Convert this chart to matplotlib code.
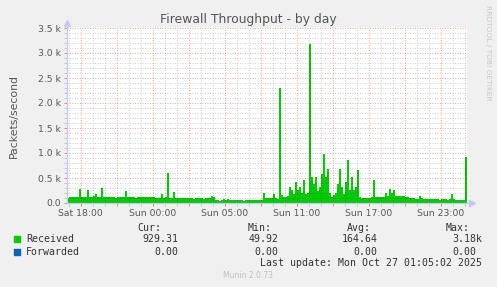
"""
Firewall throughput, Munin "by day" view, redrawn with matplotlib.
"""

import matplotlib
matplotlib.use("Agg")
import matplotlib.pyplot as plt
import numpy as np
from matplotlib.patches import Rectangle
from matplotlib.ticker import FixedLocator, MultipleLocator

W, H = 497, 287
DPI = 100

# Received packets/second, one sample per 10 minutes, oldest first
received = [
    110, 115, 120, 112, 118, 125, 280, 130, 120, 115,
    260, 130, 120, 140, 175, 130, 125, 295, 120, 115,
    118, 112, 120, 115, 110, 118, 122, 115, 120, 245,
    120, 115, 112, 118, 110, 115, 120, 128, 130, 118,
    115, 120, 118, 112, 110, 105, 110, 180, 108, 112,
    600, 110, 100, 220, 105, 100, 95, 100, 98, 95,
    95, 92, 98, 90, 95, 100, 92, 95, 90, 94,
    95, 110, 150, 120, 60, 55, 50, 55, 75, 70,
    75, 55, 60, 70, 55, 52, 58, 55, 50, 60,
    68, 55, 52, 60, 55, 58, 52, 60, 205, 100,
    105, 95, 110, 180, 95, 90, 2300, 160, 130, 120,
    150, 330, 260, 180, 430, 260, 330, 200, 460, 190,
    200, 3180, 530, 390, 530, 250, 330, 590, 990, 530,
    690, 200, 130, 160, 200, 390, 690, 330, 190, 430,
    860, 260, 530, 260, 330, 660, 130, 100, 105, 110,
    105, 110, 120, 460, 120, 130, 125, 130, 120, 207,
    150, 273, 193, 260, 150, 140, 145, 135, 140, 130,
    120, 110, 100, 95, 90, 88, 140, 95, 90, 85,
    80, 75, 78, 72, 80, 75, 70, 78, 72, 75,
    70, 75, 173, 80, 62, 60, 58, 62, 55, 929,
]
forwarded = [0.0] * len(received)

# hours relative to Sat 18:00 local time
START_H = -7 / 6
STEP_H = 1 / 6

tick_hours = [0, 6, 12, 18, 24, 30]
tick_labels = ["Sat 18:00", "Sun 00:00", "Sun 05:00",
               "Sun 11:00", "Sun 17:00", "Sun 23:00"]
y_ticks = [0, 500, 1000, 1500, 2000, 2500, 3000, 3500]
y_labels = ["0.0", "0.5 k", "1.0 k", "1.5 k", "2.0 k", "2.5 k", "3.0 k", "3.5 k"]

legend_names = ["Received", "Forwarded"]
legend_colors = ["#00CC00", "#0066B3"]
cur_vals = ["929.31", "0.00"]
min_vals = ["49.92", "0.00"]
avg_vals = ["164.64", "0.00"]
max_vals = ["3.18k", "0.00"]

BG = "#F0F0F0"
TEXT = "#555555"
AXIS = "#C4C8F4"
MONO = "DejaVu Sans Mono"


def fx(px):
    return px / W


def fy(py):
    return 1 - py / H


def main():
    fig = plt.figure(figsize=(W / DPI, H / DPI), dpi=DPI, facecolor=BG)
    ax = fig.add_axes([fx(66.7), fy(203), 400 / W, 175 / H])
    ax.set_facecolor("white")

    n = len(received)
    edges = START_H + np.arange(n + 1) * STEP_H
    ax.stairs(received, edges, fill=True, color=legend_colors[0], lw=0, zorder=2)
    ax.stairs(forwarded, edges, color=legend_colors[1], lw=0.72, zorder=3)

    ax.set_xlim(edges[0], edges[-1])
    ax.set_ylim(0, 3500)

    # major grid every 3 h / 500, minor every 1 h / 100
    major_x = list(range(0, 33, 3))
    ax.xaxis.set_major_locator(FixedLocator(major_x))
    ax.set_xticklabels([tick_labels[tick_hours.index(h)] if h in tick_hours else ""
                        for h in major_x])
    ax.xaxis.set_minor_locator(MultipleLocator(1))
    ax.set_yticks(y_ticks)
    ax.set_yticklabels(y_labels)
    ax.yaxis.set_minor_locator(MultipleLocator(100))

    ax.grid(which="minor", color="#000000", alpha=0.18, lw=0.72,
            linestyle=(0, (1, 1.5)), zorder=4)
    ax.grid(which="major", color="#FF0000", alpha=0.35, lw=0.72,
            linestyle=(0, (1, 1.5)), zorder=5)
    ax.set_axisbelow(False)

    ax.tick_params(which="major", length=2, width=0.72, color="#F08080",
                   labelsize=6.7, labelcolor=TEXT, pad=2)
    ax.tick_params(which="minor", length=2, width=0.72, color="#C8C8C8")
    for side in ax.spines.values():
        side.set_visible(False)

    # axes with arrows, Munin style
    ax.plot([0, 1.012], [0, 0], transform=ax.transAxes, color=AXIS, lw=0.9,
            clip_on=False, zorder=6)
    ax.plot([0, 0], [0, 1.03], transform=ax.transAxes, color=AXIS, lw=0.9,
            clip_on=False, zorder=6)
    ax.plot([1.012], [0], marker=">", ms=4, color=AXIS, transform=ax.transAxes,
            clip_on=False, zorder=6)
    ax.plot([0], [1.03], marker="^", ms=4, color=AXIS, transform=ax.transAxes,
            clip_on=False, zorder=6)

    ax.set_ylabel("Packets/second", fontsize=7.8, color=TEXT, labelpad=14)

    fig.text(fx(248), fy(19.3), "Firewall Throughput - by day", fontsize=8.95,
             color=TEXT, ha="center", va="center")
    fig.text(fx(488), fy(5), "RRDTOOL / TOBI OETIKER", fontsize=5.4,
             color="#C8C8C8", rotation=270, ha="center", va="top")

    # legend table
    mono = dict(family=MONO, fontsize=7.1, color="#333333", va="center")
    for x, head in [(161.7, "Cur:"), (272, "Min:"), (371, "Avg:"), (470, "Max:")]:
        fig.text(fx(x), fy(227.7), head, ha="right", **mono)

    rows_y = [239.3, 251.7]
    for k, y in enumerate(rows_y):
        fig.patches.append(Rectangle((fx(14), fy(y + 3)), 6 / W, 6 / H,
                                     transform=fig.transFigure,
                                     color=legend_colors[k]))
        fig.text(fx(26.3), fy(y), legend_names[k], ha="left", **mono)
        fig.text(fx(178.3), fy(y), cur_vals[k], ha="right", **mono)
        fig.text(fx(278.3), fy(y), min_vals[k], ha="right", **mono)
        fig.text(fx(377.7), fy(y), avg_vals[k], ha="right", **mono)
        max_x = 482 if max_vals[k].endswith("k") else 476.7
        fig.text(fx(max_x), fy(y), max_vals[k], ha="right", **mono)

    fig.text(fx(482), fy(263.3), "Last update: Mon Oct 27 01:05:02 2025",
             ha="right", **mono)
    fig.text(fx(248), fy(276), "Munin 2.0.73", fontsize=5.5, color="#C0C0C0",
             ha="center", va="center")

    fig.savefig("out.png", dpi=DPI, facecolor=BG)
    plt.close(fig)


if __name__ == "__main__":
    main()
